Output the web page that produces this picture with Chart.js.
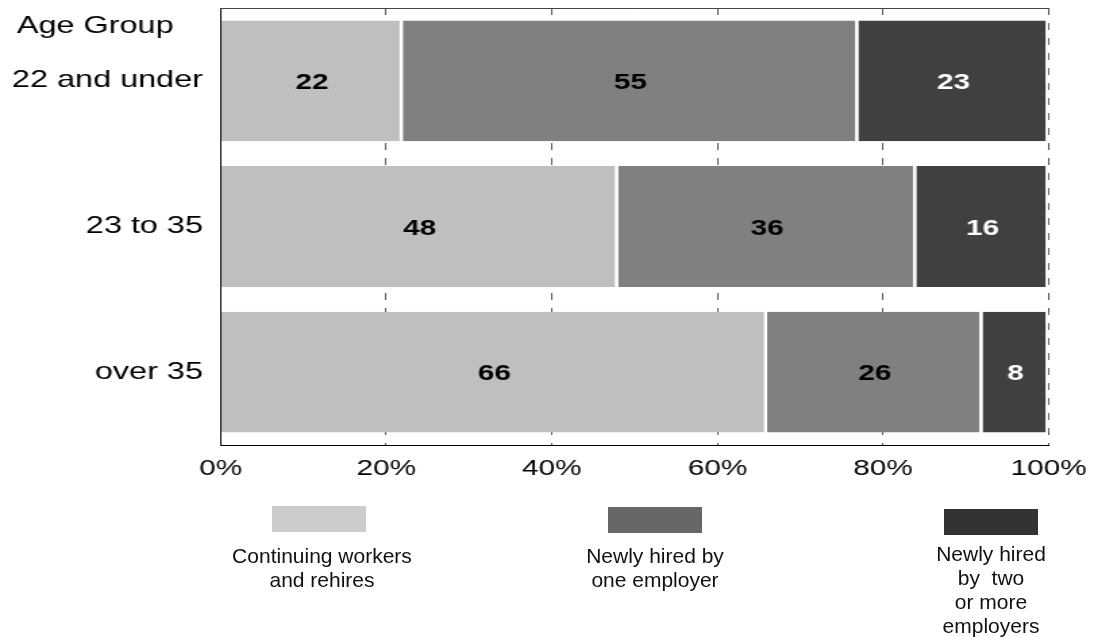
<!DOCTYPE html>
<html>
<head>
<meta charset="utf-8">
<script src="https://cdn.jsdelivr.net/npm/chart.js@4.4.1/dist/chart.umd.min.js"></script>
<style>
  body { margin: 0; background: #fff; overflow: hidden; font-family: "Liberation Sans", Arial, sans-serif; }
  #wrap { position: relative; width: 1094px; height: 637px; }
  #chart { position: absolute; left: 0; top: 0; transform-origin: 0 0; transform: scaleX(1.3506); }
  .sw { position: absolute; width: 94px; height: 26px; }
  .lt { position: absolute; width: 220px; text-align: center; font-size: 21px; line-height: 24px; color: #111; white-space: pre; }
</style>
</head>
<body>
<div id="wrap">
  <canvas id="chart" width="810" height="637"></canvas>
  <div id="legend"></div>
</div>
<script>
const ageGroups = ['22 and under', '23 to 35', 'over 35'];
const continuing = [22, 48, 66];
const newOne = [55, 36, 26];
const newTwoPlus = [23, 16, 8];
const seriesLabels = ['Continuing workers\nand rehires', 'Newly hired by\none employer', 'Newly hired\nby  two\nor more\nemployers'];
const barColors = ['#bfbfbf', '#808080', '#404040'];
const legendColors = ['#cccccc', '#666666', '#333333'];
const valueColors = ['#000', '#000', '#fff'];
const xTicks = [0, 20, 40, 60, 80, 100];
const axisTitle = 'Age Group';

const FONT = '"Liberation Sans", Arial, sans-serif';

// numbers inside the bars
const valueLabels = {
  id: 'valueLabels',
  afterDatasetsDraw(chart) {
    const ctx = chart.ctx;
    ctx.save();
    ctx.font = 'bold 22px ' + FONT;
    ctx.textAlign = 'center';
    ctx.textBaseline = 'middle';
    chart.data.datasets.forEach((ds, i) => {
      chart.getDatasetMeta(i).data.forEach((bar, j) => {
        ctx.fillStyle = valueColors[i];
        ctx.fillText(ds.data[j], (bar.x + bar.base) / 2, bar.y + 2);
      });
    });
    ctx.restore();
  }
};

// top frame line and the "Age Group" heading
const frame = {
  id: 'frame',
  afterDraw(chart) {
    const ctx = chart.ctx;
    const a = chart.chartArea;
    ctx.save();
    ctx.strokeStyle = '#444';
    ctx.lineWidth = 1;
    ctx.beginPath();
    ctx.moveTo(a.left, a.top + 0.5);
    ctx.lineTo(a.right, a.top + 0.5);
    ctx.stroke();
    ctx.fillStyle = '#000';
    ctx.font = '24px ' + FONT;
    ctx.textBaseline = 'alphabetic';
    ctx.fillText(axisTitle, 12.4, 33);
    ctx.restore();
  }
};

new Chart(document.getElementById('chart'), {
  type: 'bar',
  data: {
    labels: ageGroups,
    datasets: [continuing, newOne, newTwoPlus].map((d, i) => ({
      label: seriesLabels[i],
      data: d,
      backgroundColor: barColors[i],
      borderColor: '#fff',
      borderWidth: { top: 0, right: 2.4, bottom: 0, left: 0 },
      borderSkipped: 'start',
      barPercentage: 0.83,
      categoryPercentage: 1
    }))
  },
  options: {
    indexAxis: 'y',
    responsive: false,
    animation: false,
    layout: { padding: { top: 8, right: 33.5, bottom: 152, left: 0 } },
    plugins: { legend: { display: false }, tooltip: { enabled: false } },
    scales: {
      x: {
        stacked: true,
        min: 0,
        max: 100,
        grid: { color: '#555', lineWidth: 1, drawTicks: false },
        border: { color: '#000', width: 1, dash: [7, 8] },
        ticks: {
          color: '#000',
          font: { size: 22, family: FONT },
          padding: 11,
          callback: v => v + '%'
        },
        afterBuildTicks(s) { s.ticks = xTicks.map(v => ({ value: v })); },
        afterFit(s) { s.height = 40; s.paddingLeft = 0; s.paddingRight = 0; }
      },
      y: {
        stacked: true,
        grid: { display: false, drawTicks: false },
        border: { color: '#000', width: 1 },
        ticks: { color: '#000', font: { size: 24, family: FONT }, padding: 13 },
        afterFit(s) { s.width = 163.3; s.paddingTop = 0; s.paddingBottom = 0; }
      }
    }
  },
  plugins: [valueLabels, frame]
});

// legend under the chart
const legendPos = [
  { x: 272, y: 506, tx: 322, ty: 544 },
  { x: 608, y: 507, tx: 655, ty: 544 },
  { x: 944, y: 509, tx: 991, ty: 542 }
];
const legend = document.getElementById('legend');
seriesLabels.forEach((lab, i) => {
  const p = legendPos[i];
  const sw = document.createElement('div');
  sw.className = 'sw';
  sw.style.left = p.x + 'px';
  sw.style.top = p.y + 'px';
  sw.style.background = legendColors[i];
  legend.appendChild(sw);
  const t = document.createElement('div');
  t.className = 'lt';
  t.style.left = (p.tx - 110) + 'px';
  t.style.top = p.ty + 'px';
  t.textContent = lab;
  legend.appendChild(t);
});
</script>
</body>
</html>
